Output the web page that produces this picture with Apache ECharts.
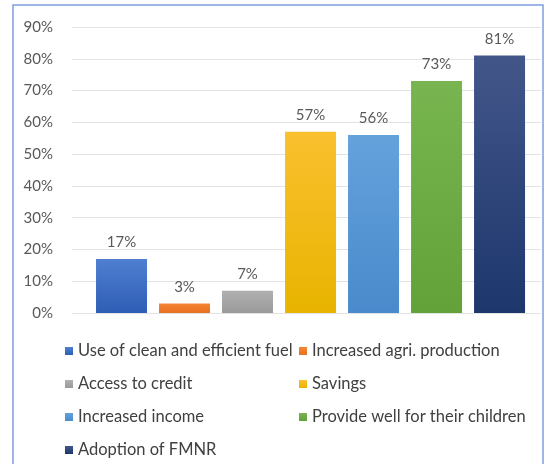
<!DOCTYPE html>
<html>
<head>
<meta charset="utf-8">
<script src="https://cdn.jsdelivr.net/npm/echarts@6/dist/echarts.min.js"></script>
<style>
  html, body { margin: 0; padding: 0; background: #fff; }
  #chart { width: 549px; height: 464px; }
</style>
</head>
<body>
<div id="chart"></div>
<script>
// 数据
const names = [
  "Use of clean and efficient fuel",
  "Increased agri. production",
  "Access to credit",
  "Savings",
  "Increased income",
  "Provide well for their children",
  "Adoption of FMNR"
];
const values = [17, 3, 7, 57, 56, 73, 81];
const positions = [1, 2, 3, 4, 5, 6, 7];
const yTicks = [0, 10, 20, 30, 40, 50, 60, 70, 80, 90];

// 颜色（上 -> 下渐变）
const colors = [
  ["#4f7fd0", "#2e5db5"],
  ["#f58535", "#e8701f"],
  ["#b0b0b0", "#9a9a9a"],
  ["#fbc02f", "#e8b400"],
  ["#64a2dc", "#4a8acc"],
  ["#78b550", "#62a238"],
  ["#43568a", "#1d376c"]
];

const font = "Lato";
let myChart = echarts.init(document.getElementById("chart"));

let series = names.map((n, i) => ({
  name: n,
  type: "bar",
  barWidth: 51,
  barGap: "-100%",
  data: [[positions[i], values[i]]],
  itemStyle: {
    color: new echarts.graphic.LinearGradient(0, 0, 0, 1, [
      { offset: 0, color: colors[i][0] },
      { offset: 1, color: colors[i][1] }
    ])
  },
  label: {
    show: true,
    position: "top",
    distance: 9,
    formatter: (p) => p.value[1] + "%",
    color: "#595959",
    fontFamily: font,
    fontSize: 15
  }
}));

const legendCommon = {
  orient: "vertical",
  icon: "rect",
  itemWidth: 8,
  itemHeight: 8,
  itemGap: 13,
  padding: 0,
  height: 140,
  itemStyle: { borderWidth: 0 },
  textStyle: { color: "#404040", fontFamily: font, fontSize: 16.5, lineHeight: 20 },
  top: 341,
  selectedMode: false
};

myChart.setOption({
  animation: false,
  graphic: [
    {
      type: "rect",
      shape: { x: 13, y: 5, width: 530, height: 470 },
      style: { fill: "none", stroke: "#7f9fe0", lineWidth: 1.5 }
    }
  ],
  legend: [
    Object.assign({}, legendCommon, { left: 65, data: [names[0], names[2], names[4], names[6]] }),
    Object.assign({}, legendCommon, { left: 299, data: [names[1], names[3], names[5]] })
  ],
  grid: { left: 72, right: 8, top: 27, bottom: 151 },
  xAxis: {
    type: "value",
    min: 0.214,
    max: 7.658,
    show: false
  },
  yAxis: {
    type: "value",
    min: 0,
    max: yTicks[yTicks.length - 1],
    interval: 10,
    axisLine: { show: false },
    axisTick: { show: false },
    axisLabel: {
      formatter: "{value}%",
      color: "#595959",
      fontFamily: font,
      fontSize: 15,
      margin: 19
    },
    splitLine: { lineStyle: { color: "#e3e3e3", width: 1 } }
  },
  series: series
});

window.addEventListener("resize", () => {
  myChart.resize();
});
</script>
</body>
</html>
